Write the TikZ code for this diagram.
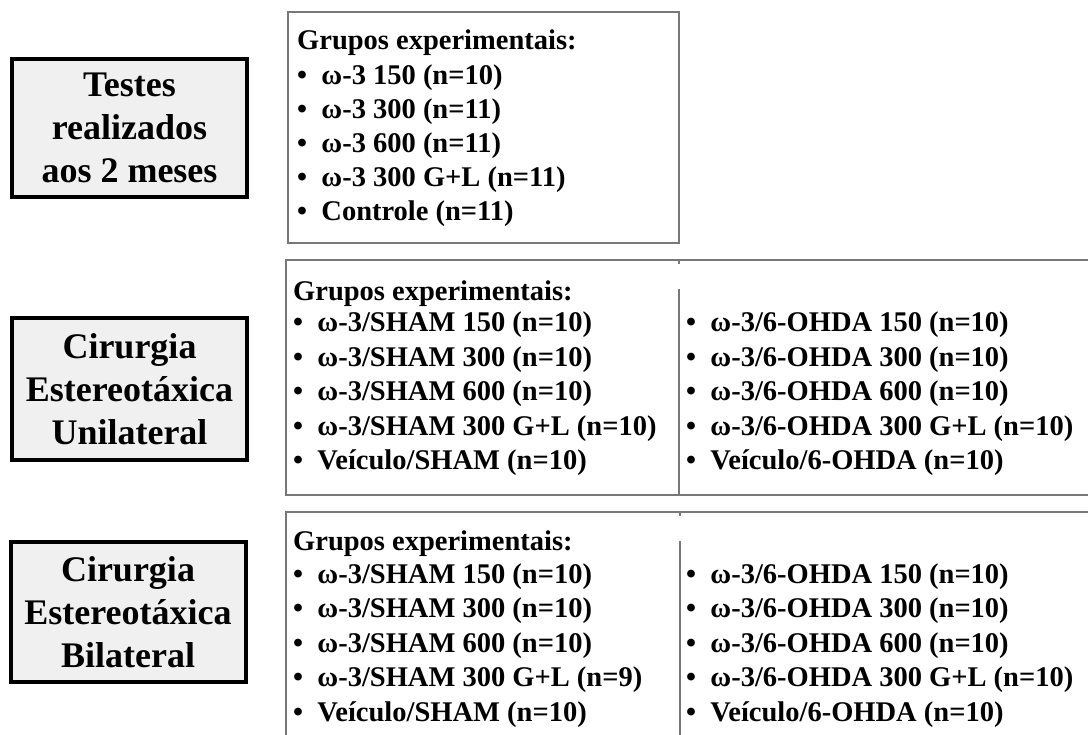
\documentclass[tikz,border=0pt]{standalone}
\usepackage{fontspec}
\setmainfont{Liberation Serif}
\definecolor{labelfill}{RGB}{240,240,240}
\definecolor{framegray}{RGB}{120,120,120}

\begin{document}
\begin{tikzpicture}[x=1pt, y=-1pt,
    testbox/.style={draw=black, line width=4pt, fill=labelfill, minimum width=235pt,
        inner sep=0pt, align=center, font=\fontsize{36}{43}\selectfont\bfseries},
    grouphead/.style={anchor=base west, inner sep=0pt, font=\fontsize{28.5}{34}\selectfont\bfseries},
    groupitem/.style={anchor=base west, inner sep=0pt, font=\fontsize{28.5}{34}\selectfont\bfseries},
    frame/.style={draw=framegray, line width=1.3pt}]

    \useasboundingbox (0,0) rectangle (1088,735);

    % Testes aos 2 meses
    \node[testbox, minimum height=138pt] (testes) at (129.5,128) {Testes\\realizados\\aos 2 meses};
    \draw[frame] (288,12) rectangle (679,243);
    \node[grouphead] (g1-head) at (297,50) {Grupos experimentais:};
    \foreach \t [count=\k] in {{ω-3 150 (n=10)}, {ω-3 300 (n=11)}, {ω-3 600 (n=11)},
                               {ω-3 300 G+L (n=11)}, {Controle (n=11)}} {
        \node[groupitem] (g1-\k) at (297, 51+34*\k) {\textbullet\hspace{0.5em}\t};
    }

    % Cirurgia unilateral
    \node[testbox, minimum height=142pt] (unilateral) at (129.5,389) {Cirurgia\\Estereotáxica\\Unilateral};
    \draw[frame] (1090,260) -- (286,260) -- (286,495) -- (1090,495);
    \draw[frame] (679,289) -- (679,495);
    \draw[frame] (679,260) -- (679,264);
    \node[grouphead] (g2-head) at (293,301) {Grupos experimentais:};
    \foreach \t [count=\k] in {{ω-3/SHAM 150 (n=10)}, {ω-3/SHAM 300 (n=10)}, {ω-3/SHAM 600 (n=10)},
                               {ω-3/SHAM 300 G+L (n=10)}, {Veículo/SHAM (n=10)}} {
        \node[groupitem] (g2-sham-\k) at (293, 297.5+34.5*\k) {\textbullet\hspace{0.5em}\t};
    }
    \foreach \t [count=\k] in {{ω-3/6-OHDA 150 (n=10)}, {ω-3/6-OHDA 300 (n=10)}, {ω-3/6-OHDA 600 (n=10)},
                               {ω-3/6-OHDA 300 G+L (n=10)}, {Veículo/6-OHDA (n=10)}} {
        \node[groupitem] (g2-ohda-\k) at (686, 297.5+34.5*\k) {\textbullet\hspace{0.5em}\t};
    }

    % Cirurgia bilateral
    \node[testbox, minimum height=140pt] (bilateral) at (128,612) {Cirurgia\\Estereotáxica\\Bilateral};
    \draw[frame] (1090,512) -- (286,512) -- (286,737);
    \draw[frame] (680,541) -- (680,737);
    \draw[frame] (680,512) -- (680,516);
    \node[grouphead] (g3-head) at (293,550) {Grupos experimentais:};
    \foreach \t [count=\k] in {{ω-3/SHAM 150 (n=10)}, {ω-3/SHAM 300 (n=10)}, {ω-3/SHAM 600 (n=10)},
                               {ω-3/SHAM 300 G+L (n=9)}, {Veículo/SHAM (n=10)}} {
        \node[groupitem] (g3-sham-\k) at (293, 548.5+34.5*\k) {\textbullet\hspace{0.5em}\t};
    }
    \foreach \t [count=\k] in {{ω-3/6-OHDA 150 (n=10)}, {ω-3/6-OHDA 300 (n=10)}, {ω-3/6-OHDA 600 (n=10)},
                               {ω-3/6-OHDA 300 G+L (n=10)}, {Veículo/6-OHDA (n=10)}} {
        \node[groupitem] (g3-ohda-\k) at (686, 548.5+34.5*\k) {\textbullet\hspace{0.5em}\t};
    }

\end{tikzpicture}
\end{document}
